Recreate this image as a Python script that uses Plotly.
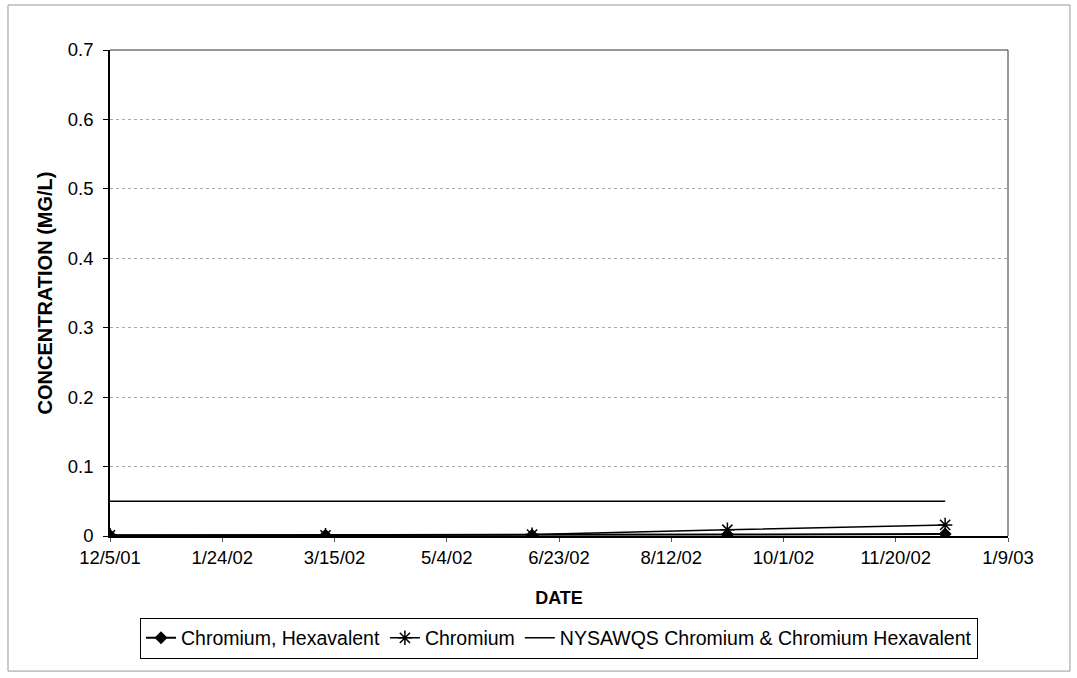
import plotly.graph_objects as go

dates = ["2001-12-05", "2002-03-11", "2002-06-11", "2002-09-06", "2002-12-12"]
hexavalent = [0.001, 0.001, 0.001, 0.002, 0.003]
chromium = [0.001, 0.001, 0.002, 0.009, 0.016]
std_dates = ["2001-12-05", "2002-12-12"]
std_values = [0.05, 0.05]
tick_dates = ["2001-12-05", "2002-01-24", "2002-03-15", "2002-05-04", "2002-06-23",
              "2002-08-12", "2002-10-01", "2002-11-20", "2003-01-09"]
tick_labels = ["12/5/01", "1/24/02", "3/15/02", "5/4/02", "6/23/02",
               "8/12/02", "10/1/02", "11/20/02", "1/9/03"]
y_ticks = [0, 0.1, 0.2, 0.3, 0.4, 0.5, 0.6, 0.7]
y_labels = ["0", "0.1", "0.2", "0.3", "0.4", "0.5", "0.6", "0.7"]

fig = go.Figure()
fig.add_trace(go.Scatter(x=dates, y=hexavalent, mode="lines+markers",
                         name="Chromium, Hexavalent",
                         line=dict(color="black", width=2),
                         marker=dict(symbol="diamond", size=10, color="black")))
fig.add_trace(go.Scatter(x=dates, y=chromium, mode="lines+markers",
                         name="Chromium",
                         line=dict(color="black", width=1.5),
                         marker=dict(symbol="asterisk-open", size=12,
                                     line=dict(color="black", width=1.5))))
fig.add_trace(go.Scatter(x=std_dates, y=std_values, mode="lines",
                         name="NYSAWQS Chromium & Chromium Hexavalent",
                         line=dict(color="black", width=1.5)))

fig.update_layout(
    width=1077, height=678,
    paper_bgcolor="white", plot_bgcolor="white",
    margin=dict(l=110, r=69, t=50, b=142),
    font=dict(family="Liberation Sans, Arial", size=18, color="black"),
    showlegend=True,
    legend=dict(orientation="h", x=0.5, xanchor="center", y=-0.168, yanchor="top",
                bordercolor="black", borderwidth=1, font=dict(size=19.5),
                tracegroupgap=0),
    xaxis=dict(range=["2001-12-05", "2003-01-09"], tickvals=tick_dates,
               ticktext=tick_labels, showgrid=False, showline=True,
               linecolor="black", linewidth=1.5, ticks="outside", ticklen=4,
               tickcolor="#555555", zeroline=False,
               tickfont=dict(size=18.5),
               title=dict(text="<b>DATE</b>", standoff=24, font=dict(size=18))),
    yaxis=dict(range=[0, 0.7], tickvals=y_ticks, ticktext=y_labels,
               showgrid=True, gridcolor="#a8a8a8",
               griddash="dot", gridwidth=1, showline=True, linecolor="black",
               linewidth=1.5, ticks="outside", ticklen=5, tickcolor="black",
               zeroline=False, tickfont=dict(size=18.5), ticklabelstandoff=6,
               title=dict(text="<b>CONCENTRATION (MG/L)</b>", standoff=10,
                          font=dict(size=20))),
)
fig.add_shape(type="rect", xref="paper", yref="paper", x0=-0.1136, x1=1.069,
              y0=-0.278, y1=1.0926, line=dict(color="#999999", width=1))
fig.add_shape(type="line", xref="paper", yref="paper", x0=0, x1=1, y0=1, y1=1,
              line=dict(color="#333333", width=1))
fig.add_shape(type="line", xref="paper", yref="paper", x0=1, x1=1, y0=0, y1=1,
              line=dict(color="#333333", width=1))

fig.write_html("out.html")
